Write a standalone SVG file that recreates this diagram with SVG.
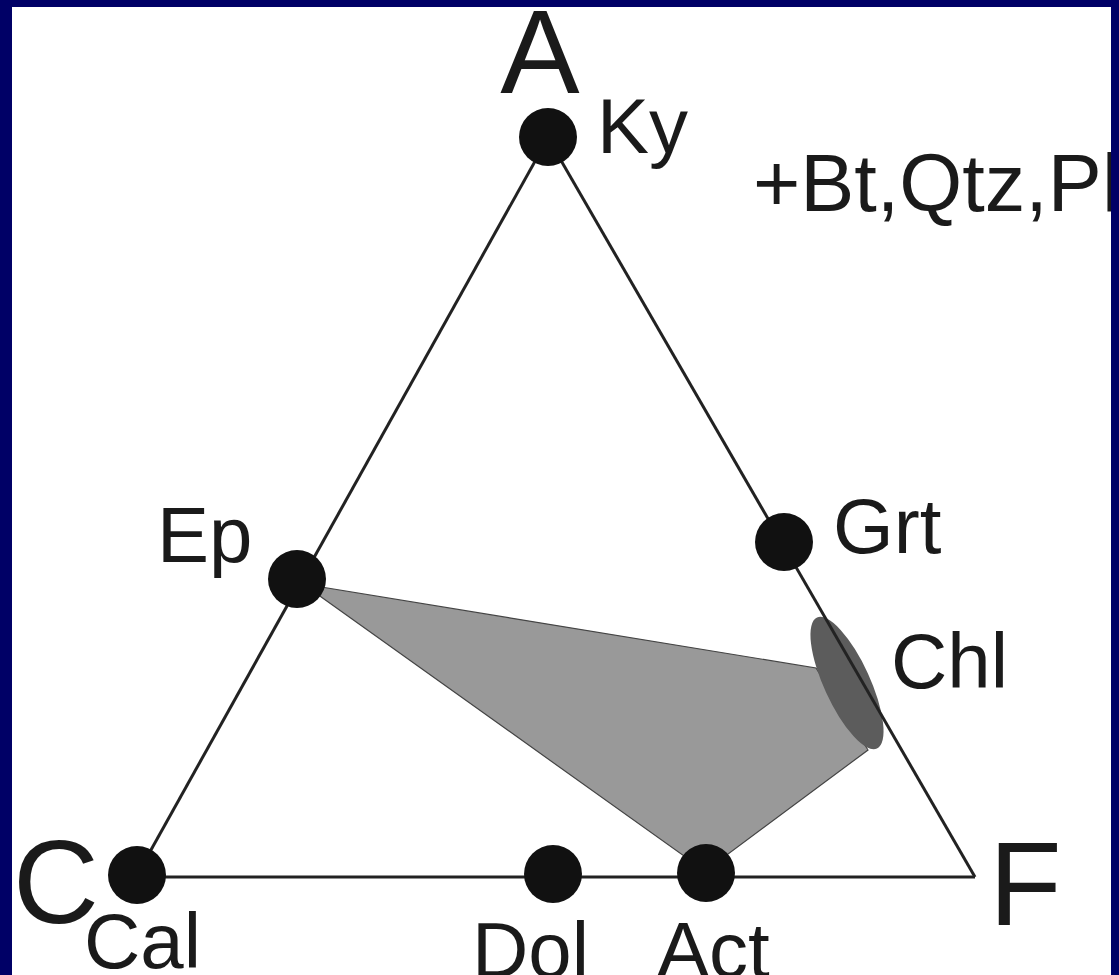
<svg xmlns="http://www.w3.org/2000/svg" width="1119" height="975" viewBox="0 0 1119 975">
<style>
.lbl{font-family:"Liberation Sans",Arial,sans-serif;font-size:78px;fill:#1a1a1a}
.big{font-family:"Liberation Sans",Arial,sans-serif;font-size:119px;fill:#1a1a1a}
.dot{fill:#111}
.edge{stroke:#222;stroke-width:3;fill:none}
</style>
<rect x="0" y="0" width="1119" height="975" fill="#ffffff"/>
<g id="field">
<polygon points="303,584 816,668 868,750 712,866 698,866" fill="#999999" stroke="#444" stroke-width="1.2"/>
<ellipse cx="847" cy="683" rx="72" ry="23" transform="rotate(65.4 847 683)" fill="#5c5c5c"/>
</g>
<g id="connectors">
<line class="edge" x1="548" y1="138" x2="137" y2="875"/>
<line class="edge" x1="548" y1="138" x2="975" y2="877"/>
<line class="edge" x1="137" y1="877" x2="975" y2="877"/>
</g>
<g id="vertex-A"><text class="big" x="540" y="93" text-anchor="middle">A</text></g>
<g id="vertex-C"><text class="big" x="13" y="923">C</text></g>
<g id="vertex-F"><text class="big" x="989" y="925">F</text></g>
<g id="node-Ky"><circle class="dot" cx="548" cy="137" r="29"/><text class="lbl" x="597" y="153">Ky</text></g>
<g id="node-Ep"><circle class="dot" cx="297" cy="579" r="29"/><text class="lbl" x="157" y="562">Ep</text></g>
<g id="node-Grt"><circle class="dot" cx="784" cy="542" r="29"/><text class="lbl" x="833" y="553">Grt</text></g>
<g id="node-Chl"><text class="lbl" x="891" y="688">Chl</text></g>
<g id="node-Cal"><circle class="dot" cx="137" cy="875" r="29"/><text class="lbl" x="84" y="968">Cal</text></g>
<g id="node-Dol"><circle class="dot" cx="553" cy="874" r="29"/><text class="lbl" x="472" y="977">Dol</text></g>
<g id="node-Act"><circle class="dot" cx="706" cy="873" r="29"/><text class="lbl" x="657" y="977">Act</text></g>
<g id="note"><text class="lbl" x="753" y="211" style="font-size:81px">+Bt,Qtz,Pl</text></g>
<g id="frame" fill="#000066">
<rect x="0" y="0" width="1119" height="7"/>
<rect x="0" y="0" width="12" height="975"/>
<rect x="1111" y="0" width="8" height="975"/>
</g>
</svg>
